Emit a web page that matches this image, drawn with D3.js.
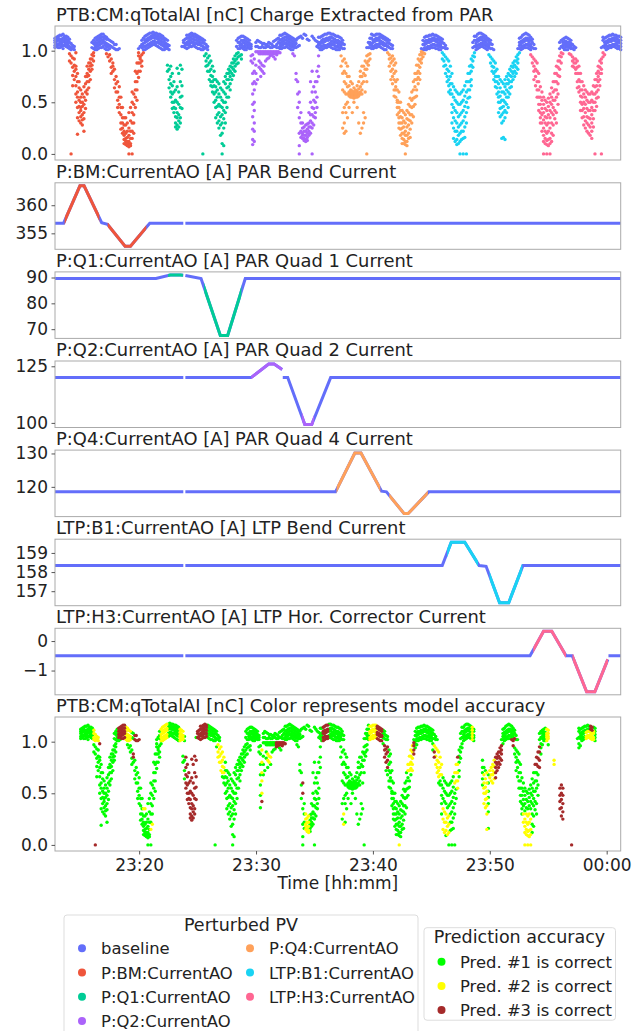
<!DOCTYPE html>
<html>
<head>
<meta charset="utf-8">
<script src="https://cdn.jsdelivr.net/npm/d3@7"></script>
<style>
  body { margin: 0; background: #fff; }
  svg { font-family: "DejaVu Sans", sans-serif; }
</style>
</head>
<body>
<svg id="chart"></svg>
<script>
// perturbed PVs and their colours
const pvNames = ["baseline", "P:BM:CurrentAO", "P:Q1:CurrentAO", "P:Q2:CurrentAO", "P:Q4:CurrentAO", "LTP:B1:CurrentAO", "LTP:H3:CurrentAO"];
const pvColors = ["#636EFA", "#EF553B", "#00CC96", "#AB63FA", "#FFA15A", "#19D3F3", "#FF6692"];
const accNames = ["Pred. #1 is correct", "Pred. #2 is correct", "Pred. #3 is correct"];
const accColors = ["#00FF00", "#FFFF00", "#A52A2A"];

// time axis (minutes after 23:00)
const xTickTimes = [20, 30, 40, 50, 60];
const xTickLabels = ["23:20", "23:30", "23:40", "23:50", "00:00"];

// charge readings: "time|values x100"
const qColumns = [
  "15.00|108 112 105 110 103", "15.25|110 114 106 112 103", "15.50|111 115 107 104 109", "15.75|112 108 114 105 110",
  "16.00|110 106 113 103 108", "16.25|107 103 101 95 88 0", "16.50|104 101 92 80 72 86", "16.75|70 60 55 45 35 78 19",
  "17.00|62 50 42 36 30 55 45", "17.25|55 48 40 34 22 65", "17.50|78 70 62 58 75 85", "17.75|92 85 80 72 88",
  "18.00|98 95 90 102 107 110", "18.25|104 110 113 107 101", "18.50|106 112 115 109 103", "18.75|108 113 116 110 104",
  "19.00|107 113 111 104 101 97", "19.25|105 110 102 96 90", "19.50|103 108 88 80 85", "19.75|106 101 75 68 60",
  "20.00|102 65 55 48 40", "20.25|45 35 30 25 20", "20.50|28 20 15 12 9 35", "20.75|18 12 9 7 25 40 0",
  "21.00|50 40 30 22 15 60 0", "21.25|70 62 55 45 80", "21.50|88 80 74 95 98 102", "21.75|96 90 85 103 110 106",
  "22.00|104 110 114 108 101", "22.25|106 112 116 110 103", "22.50|108 114 117 112 105", "22.75|109 115 117 112 106",
  "23.00|108 114 116 111 104", "23.25|106 112 115 109 102", "23.50|104 109 112 106 101", "23.75|102 106 110 104 86 80",
  "24.00|85 75 68 60 55", "24.25|70 60 50 45 40", "24.50|50 40 35 28 24 65 83", "24.75|55 45 35 30 70 86",
  "25.00|104 108 110", "25.25|106 112 115 108 102", "25.50|107 113 116 110 104", "25.75|108 114 116 111 105",
  "26.00|107 113 115 110 103", "26.25|106 111 113 108 102", "26.50|104 108 111 101 0", "26.75|103 106 97 90 85",
  "27.00|95 88 80 72", "27.25|85 75 70 65 60", "27.50|72 65 60 52 45 35", "27.75|68 58 48 40 32 25",
  "28.00|62 52 45 38 30 20 10 0", "28.25|75 68 58 50 40 30", "28.50|82 78 72 65 55", "28.75|88 84 78 72",
  "29.00|95 90 85 80", "29.25|98 94 88 102 108 112", "29.50|103 110 114 106 96 92", "29.75|104 110 113 107 101",
  "30.00|103 108 111 105", "30.25|102 106 104 95 90", "30.50|92 80 70 62 50 42 30 22 12", "30.75|99 72 104 110",
  "31.00|99 98 97 88 82 75 103 108", "31.25|99 98 97 85 78 103 107", "31.50|99 98 97 92 104 106", "31.75|99 98 97 95 103 107",
  "32.00|99 98 97 94 104 109", "32.25|99 98 96 103 106 111", "32.50|104 110 115 107 102 98", "32.75|106 112 116 109 103",
  "33.00|107 113 116 110 104", "33.25|105 111 114 108 102", "33.50|104 109 112 106 101 97", "33.75|78 72 103 107 110",
  "34.00|60 50 35 20 8 0 113 105", "34.25|30 25 20 18 15 112", "34.50|28 22 18 14 12 115", "34.75|30 26 22 18 40 110",
  "35.00|45 38 30 25 60 80 0 114", "35.25|60 50 40 35 70 110", "35.50|95 85 75 103 108 113 106", "35.75|104 110 114 108 101",
  "36.00|105 111 116 109 103", "36.25|106 112 117 110 104", "36.50|106 113 116 109 103", "36.75|105 111 115 108 102",
  "37.00|104 110 114 107 101", "37.25|103 108 112 105 95 85", "37.50|102 106 92 80 70 60 45 30 20", "37.75|85 75 65 58 50 35",
  "38.00|62 60 58 57 55 70", "38.25|60 58 57 56 54 64 50", "38.50|61 59 57 55 66 45", "38.75|65 60 58 75 80 20",
  "39.00|85 78 70 40 30", "39.25|95 88 82 70 0 103", "39.50|97 92 103 108 112 106", "39.75|104 110 115 108 102",
  "40.00|106 112 116 110 103", "40.25|107 113 116 110 104", "40.50|106 112 114 108 102", "40.75|105 110 112 106 101",
  "41.00|103 107 110 96 92 85", "41.25|102 105 95 90 82 75 68", "41.50|88 80 70 65 55 62", "41.75|60 50 40 35 30 25 45",
  "42.00|42 35 30 25 20 15 10", "42.25|38 30 22 18 12 9 0", "42.50|48 40 33 28 20 15", "42.75|60 52 45 38 30",
  "43.00|78 72 65 55 48", "43.25|92 86 80 74 68", "43.50|99 96 92 88 102", "43.75|103 109 113 106 101 97",
  "44.00|104 110 114 108 102", "44.25|105 111 115 109 103", "44.50|106 112 115 110 103", "44.75|105 111 114 108 102",
  "45.00|104 109 112 106 101", "45.25|103 107 96 90 85", "45.50|102 92 82 75 70", "45.75|85 75 68 62 58",
  "46.00|65 55 45 35 25 15", "46.25|60 50 40 30 22 14 9", "46.50|58 48 38 28 20 12 0", "46.75|62 52 42 32 22 15 0",
  "47.00|70 60 50 40 30 0", "47.25|85 78 70 62 55", "47.50|95 90 84 103 108", "47.75|104 110 114 107 101",
  "48.00|106 112 117 110 103", "48.25|107 113 116 110 104", "48.50|105 111 114 108 102", "48.75|103 108 111 105 96",
  "49.00|102 106 92 85 80", "49.25|88 80 75 70 65", "49.50|75 68 60 55 50 40", "49.75|70 60 52 45 38 30 15",
  "50.00|72 65 58 50 42 35 14", "50.25|78 72 68 60 55 45", "50.50|85 80 75 70 65", "50.75|90 86 80 75",
  "51.00|96 92 88 82 102", "51.25|103 109 113 106 101", "51.50|105 111 116 109 103", "51.75|106 112 116 110 103",
  "52.00|104 110 113 106 101 96", "52.25|102 106 92 85 80 72", "52.50|88 80 70 62 55", "52.75|65 55 48 40 35 30",
  "53.00|55 48 40 33 25 18 12 0", "53.25|50 42 35 28 20 13 9 0", "53.50|58 50 42 35 25 15 10 0", "53.75|70 60 52 45 38 28 18",
  "54.00|85 78 70 62 55 40 30", "54.25|95 90 82 75 102 108", "54.50|103 108 111 105 97", "54.75|104 109 113 107 101",
  "55.00|103 108 111 105 97", "55.25|102 106 94 90 85", "55.50|103 92 88 82 78", "55.75|85 78 72 65 60",
  "56.00|70 62 55 48 42 35", "56.25|62 55 48 40 32 25", "56.50|58 50 42 35 28 20", "56.75|60 52 45 38 30 22 15",
  "57.00|72 65 58 50 42 0", "57.25|85 80 75 70 62 55", "57.50|92 88 82 78 0 103", "57.75|103 108 112 105 96",
  "58.00|104 110 114 108 102", "58.25|105 111 115 109 103", "58.50|106 112 115 110 104", "58.75|105 111 114 108 102",
  "59.00|104 110 113 107 101"
];
// readings between the columns above
const qColumnsMid = [
  "15.125|109 113 106 104 111", "15.375|111 115 108 103 106", "15.625|112 116 109 105 102", "15.875|111 107 114 104 109",
  "16.125|108 104 111 102 97 90", "16.375|105 102 93 84 76 66", "16.625|98 85 75 66 58 50 82", "16.875|64 52 46 40 32 70",
  "17.125|58 46 38 33 28 50", "17.375|68 60 52 44 75", "17.625|88 82 76 70 64", "17.875|96 92 86 82 103 108",
  "18.125|103 108 112 105 101", "18.375|105 111 114 108 102", "18.625|107 113 116 110 103", "18.875|108 114 112 106 102",
  "19.125|106 111 104 101 94", "19.375|104 109 92 84 78", "19.625|102 106 82 72 64", "19.875|101 70 60 52 45",
  "20.125|55 45 38 30 24", "20.375|35 28 22 18 14 10", "20.625|22 16 12 10 8 30", "20.875|32 22 15 10 8 45",
  "21.125|58 48 38 30 20", "21.375|78 70 62 52 88", "21.625|94 88 80 92 104", "21.875|101 107 112 104 98",
  "22.125|105 111 115 109 102", "22.375|107 113 117 111 104", "22.625|109 115 118 113 106", "22.875|108 114 117 112 105",
  "23.125|107 113 116 110 103", "23.375|105 111 114 108 101", "23.625|103 107 111 105 102", "23.875|101 105 82 72 64",
  "24.125|78 66 58 50 44", "24.375|62 52 44 36 30 26", "24.625|48 38 32 26 60 78", "24.875|66 56 44 82 104",
  "25.125|103 107 111 105", "25.375|106 112 115 109 103", "25.625|108 114 117 111 104", "25.875|107 113 116 110 104",
  "26.125|106 112 114 109 102", "26.375|105 110 112 107 101", "26.625|103 107 110 102 95", "26.875|101 104 93 86 80",
  "27.125|90 82 76 70 66", "27.375|80 72 66 58 50", "27.625|70 62 55 46 38 30", "27.875|64 55 46 36 28 18",
  "28.125|70 60 50 42 34 25 8", "28.375|78 72 64 55 45", "28.625|85 80 75 68 62", "28.875|92 88 82 76",
  "29.125|97 92 87 104 110", "29.375|102 108 113 105 95", "29.625|104 110 114 108 102", "29.875|103 109 112 106 101",
  "30.125|102 107 110 104", "30.375|96 88 78 68 58 48 36 24 14 9", "30.625|99 86 78 68 104 108", "30.875|99 98 97 90 84 103 109",
  "31.125|99 98 97 86 80 104 107", "31.375|99 98 97 90 103 106", "31.625|99 98 97 93 104 108", "31.875|99 98 97 96 103 106",
  "32.125|99 98 97 92 104 110", "32.375|99 98 103 108 112", "32.625|105 111 115 108 102", "32.875|107 113 117 110 103",
  "33.125|106 112 115 109 103", "33.375|104 110 113 107 101", "33.625|103 108 111 105 95", "33.875|70 58 45 104 112",
  "34.125|40 30 22 16 114", "34.375|26 22 18 15 13 116", "34.625|29 24 20 16 13 111", "34.875|38 32 26 20 50 70",
  "35.125|52 44 36 28 65 112", "35.375|80 70 55 45 104 109", "35.625|103 108 113 106 101", "35.875|105 111 115 108 102",
  "36.125|105 112 116 110 103", "36.375|107 113 117 111 104", "36.625|106 112 116 109 102", "36.875|104 110 114 108 101",
  "37.125|103 109 113 106 101", "37.375|102 107 110 90 78 62 40 25", "37.625|88 78 68 58 48 40 22", "37.875|75 66 60 58 56 45",
  "38.125|61 59 57 56 55 68 40", "38.375|60 58 57 56 55 62", "38.625|63 59 57 56 70 30", "38.875|75 68 62 58 85 25",
  "39.125|90 82 76 60 35", "39.375|96 90 86 103 108", "39.625|102 107 112 116 105", "39.875|105 111 115 109 103",
  "40.125|106 112 116 110 104", "40.375|107 113 115 109 103", "40.625|105 111 113 107 101", "40.875|104 108 111 104 98",
  "41.125|102 106 93 88 80 72", "41.375|92 86 78 72 62 56", "41.625|72 62 52 45 38 50", "41.875|50 42 36 30 24 18",
  "42.125|40 32 26 20 14 10", "42.375|42 34 26 18 12 8", "42.625|54 46 38 32 24 16", "42.875|70 62 54 46 36",
  "43.125|86 78 72 62 56", "43.375|96 90 84 78 72", "43.625|101 106 110 98 94", "43.875|103 110 114 107 101",
  "44.125|104 111 115 108 102", "44.375|106 112 116 110 103", "44.625|105 111 115 109 102", "44.875|104 110 113 107 101",
  "45.125|103 108 111 98 92", "45.375|102 105 94 86 78", "45.625|90 80 72 66 60", "45.875|78 68 58 48 40 30",
  "46.125|62 52 42 32 22 12", "46.375|58 48 36 26 18 10", "46.625|60 50 40 30 22 14", "46.875|66 56 46 36 26 16",
  "47.125|78 70 62 54 45", "47.375|92 86 80 72 66", "47.625|98 94 104 110 114", "47.875|105 111 116 109 102",
  "48.125|107 113 117 111 104", "48.375|106 112 115 109 103", "48.625|104 110 112 106 101", "48.875|102 107 110 94 88",
  "49.125|101 90 84 78 72", "49.375|82 75 70 64 58", "49.625|72 64 56 50 44 36", "49.875|68 60 52 46 40 32 16",
  "50.125|75 68 62 55 48 40", "50.375|82 76 70 64 58", "50.625|88 84 78 72", "50.875|94 90 84 78",
  "51.125|102 108 112 105 98", "51.375|104 110 115 108 102", "51.625|106 112 117 110 103", "51.875|105 111 115 108 102",
  "52.125|103 108 111 94 88", "52.375|102 90 82 75 66", "52.625|78 70 62 55 48 42", "52.875|60 52 44 38 30 22",
  "53.125|52 44 36 30 22 15 10", "53.375|54 46 38 30 22 14 8", "53.625|64 55 48 40 30 20 12", "53.875|78 70 62 52 42 34",
  "54.125|90 84 76 68 58 48", "54.375|98 94 88 104 110", "54.625|103 109 112 106 101", "54.875|104 108 112 106 101",
  "55.125|102 107 110 104 96", "55.375|101 104 92 88 84", "55.625|90 84 78 70 64", "55.875|78 70 62 56 50 42",
  "56.125|66 58 50 44 36 28", "56.375|60 52 44 36 30 22", "56.625|58 50 42 34 26 18", "56.875|66 58 50 42 34 26",
  "57.125|78 72 66 60 54 46", "57.375|90 84 78 72 66", "57.625|98 94 104 110 113", "57.875|104 109 113 107 101",
  "58.125|105 111 115 109 103", "58.375|106 112 116 110 104", "58.625|106 112 115 109 103", "58.875|104 110 114 108 102"
];

// time windows where charge drops belong to a perturbed PV
const dipSpans = [
  ["P:BM:CurrentAO", 16.1, 18.1], ["P:BM:CurrentAO", 19.0, 21.9],
  ["P:Q1:CurrentAO", 23.7, 24.9], ["P:Q1:CurrentAO", 26.4, 29.6],
  ["P:Q2:CurrentAO", 30.2, 32.6], ["P:Q2:CurrentAO", 33.4, 35.6],
  ["P:Q4:CurrentAO", 37.1, 39.6], ["P:Q4:CurrentAO", 40.8, 43.9],
  ["LTP:B1:CurrentAO", 45.1, 47.7], ["LTP:B1:CurrentAO", 48.7, 51.2],
  ["LTP:H3:CurrentAO", 51.9, 54.6], ["LTP:H3:CurrentAO", 54.9, 57.8]
];

// prediction accuracy regions [t0, t1, v0, v1, code]; 0 = no prediction, default 1
const accRegions = [
  [16.1, 16.6, 1.0, 1.2, 2], [16.6, 17.1, 0.9, 1.2, 3], [16.2, 16.3, -0.1, 0.05, 3],
  [18.2, 18.8, 1.03, 1.2, 3], [18.8, 19.3, 1.0, 1.2, 2], [19.6, 20.0, 1.0, 1.2, 3], [19.4, 19.6, 0.84, 0.9, 3],
  [20.3, 20.6, 0.3, 0.5, 2], [20.9, 21.2, 0.05, 0.2, 2], [21.8, 22.4, 1.0, 1.2, 2], [23.4, 23.8, 1.0, 1.2, 2],
  [23.9, 24.9, 0.2, 0.95, 3], [25.0, 25.8, 1.0, 1.2, 3], [26.7, 27.3, 0.7, 1.0, 2],
  [30.4, 30.6, 0.45, 0.95, 2], [30.4, 30.6, 0.3, 0.45, 3], [30.3, 30.6, 0.0, 0.3, 0],
  [31.0, 31.3, 0.8, 0.9, 2], [31.7, 32.6, 0.95, 0.995, 3], [33.9, 34.1, 0.45, 0.65, 3], [34.2, 34.6, 0.1, 0.3, 2],
  [35.7, 36.2, 1.0, 1.2, 3], [37.4, 37.6, 0.2, 0.4, 2], [39.75, 40.3, 1.0, 1.2, 2], [40.3, 40.8, 1.0, 1.2, 3],
  [40.9, 41.3, 0.75, 1.0, 3], [42.1, 42.4, -0.1, 0.05, 2], [42.9, 43.6, 0.7, 1.0, 2], [43.4, 43.6, 0.85, 1.0, 3],
  [45.2, 45.9, 0.65, 1.0, 2], [45.2, 45.3, 0.8, 0.9, 3], [46.0, 46.5, 0.1, 0.35, 2], [46.9, 47.3, 0.55, 0.95, 2],
  [47.2, 47.3, 0.8, 0.9, 3], [48.5, 48.6, 1.0, 1.2, 2], [48.7, 49.3, -0.1, 1.3, 0], [49.4, 49.8, 0.1, 0.7, 2],
  [49.9, 50.4, -0.1, 0.6, 0], [50.0, 50.5, 0.6, 1.0, 2], [50.5, 51.0, 0.6, 1.0, 3], [51.8, 52.2, 0.95, 1.03, 3],
  [52.8, 53.6, 0.0, 0.3, 2], [53.75, 54.3, 0.75, 1.0, 3], [54.8, 55.1, 1.0, 1.2, 2],
  [55.1, 57.4, -0.1, 1.3, 0], [57.4, 57.6, -0.1, 0.95, 0], [55.5, 55.6, 0.6, 0.85, 2], [56.0, 56.3, 0.15, 0.6, 3],
  [56.9, 57.1, -0.1, 0.05, 3], [58.2, 58.9, 1.0, 1.1, 2], [58.6, 58.8, 1.1, 1.2, 3]
];

// magnet set points [time, value]; null marks a gap
const bmKnots = [[15.0, 356.8], [15.67, 356.8], [16.94, 363.45], [17.26, 363.45], [18.63, 356.9], [19.08, 356.6], [20.45, 352.7], [20.87, 352.7], [22.37, 356.8], [24.98, 356.8], [25.06, null], [25.14, 356.8], [59.0, 356.8]];
const q1Knots = [[15.0, 89.6], [22.85, 89.6], [23.96, 91.0], [24.76, 91.0], [24.98, 90.9], [25.06, null], [25.14, 90.8], [26.36, 89.6], [27.86, 67.6], [28.43, 67.6], [29.8, 89.6], [59.0, 89.6]];
const q2Knots = [[15.0, 120.0], [24.98, 120.0], [25.06, null], [25.14, 120.0], [30.25, 120.0], [31.62, 126.0], [32.04, 126.0], [32.67, 123.6], [32.69, null], [32.72, 120.0], [33.1, 120.0], [34.43, 99.3], [34.97, 99.3], [36.44, 120.0], [59.0, 120.0]];
const q4Knots = [[15.0, 118.5], [24.98, 118.5], [25.06, null], [25.14, 118.5], [36.82, 118.5], [38.32, 130.1], [38.8, 130.1], [40.4, 118.7], [40.78, 118.5], [42.15, 112.0], [42.47, 112.0], [44.07, 118.5], [59.0, 118.5]];
const b1Knots = [[15.0, 158.34], [24.98, 158.34], [25.06, null], [25.14, 158.34], [45.12, 158.34], [45.82, 159.56], [46.87, 159.56], [47.99, 158.34], [48.53, 158.3], [49.58, 156.4], [50.29, 156.4], [51.4, 158.34], [59.0, 158.34]];
const h3Knots = [[15.0, -0.5], [24.98, -0.5], [25.06, null], [25.14, -0.5], [51.95, -0.5], [53.0, 0.33], [53.64, 0.33], [54.75, -0.5], [55.23, -0.5], [56.35, -1.72], [56.99, -1.72], [58.0, -0.62], [58.02, null], [58.05, -0.5], [59.0, -0.5]];

// where each set-point trace is drawn in its PV colour
const lineSpans = [
  ["P:BM:CurrentAO", 15.75, 18.45], ["P:BM:CurrentAO", 19.1, 22.1],
  ["P:Q1:CurrentAO", 23.8, 24.95], ["P:Q1:CurrentAO", 26.6, 29.5],
  ["P:Q2:CurrentAO", 30.25, 32.7], ["P:Q2:CurrentAO", 34.2, 35.15],
  ["P:Q4:CurrentAO", 36.9, 40.3], ["P:Q4:CurrentAO", 41.0, 44.0],
  ["LTP:B1:CurrentAO", 45.5, 47.9], ["LTP:B1:CurrentAO", 48.8, 51.35],
  ["LTP:H3:CurrentAO", 52.2, 54.75], ["LTP:H3:CurrentAO", 55.25, 58.02]
];

const chargeTicks = [0, 0.5, 1.0];
const linePanels = [
  { title: "P:BM:CurrentAO [A] PAR Bend Current", pv: "P:BM:CurrentAO", knots: bmKnots, ticks: [355, 360] },
  { title: "P:Q1:CurrentAO [A] PAR Quad 1 Current", pv: "P:Q1:CurrentAO", knots: q1Knots, ticks: [70, 80, 90] },
  { title: "P:Q2:CurrentAO [A] PAR Quad 2 Current", pv: "P:Q2:CurrentAO", knots: q2Knots, ticks: [100, 125] },
  { title: "P:Q4:CurrentAO [A] PAR Quad 4 Current", pv: "P:Q4:CurrentAO", knots: q4Knots, ticks: [120, 130] },
  { title: "LTP:B1:CurrentAO [A] LTP Bend Current", pv: "LTP:B1:CurrentAO", knots: b1Knots, ticks: [157, 158, 159] },
  { title: "LTP:H3:CurrentAO [A] LTP Hor. Corrector Current", pv: "LTP:H3:CurrentAO", knots: h3Knots, ticks: [-1, 0] }
];

const width = 640, height = 1031;
const left = 55, right = 620.7;
const frames = [[26, 160], [182.8, 249.3], [271.9, 338.4], [361, 427.5], [450.1, 516.6], [539.2, 605.7], [628.3, 694.8], [717, 851]];
const svg = d3.select("#chart").attr("width", width).attr("height", height);

const pad5 = ext => { let s = ext[1] - ext[0]; return [ext[0] - 0.05 * s, ext[1] + 0.05 * s]; };

// parse charge data
let charge = qColumns.concat(qColumnsMid).flatMap(s => {
  let [t, vals] = s.split("|");
  return vals.split(" ").map(v => ({ t: +t, v: +v / 100 }));
});
charge.forEach(d => {
  d.pv = 0;
  if (d.v < 1) {
    let span = dipSpans.find(s => d.t >= s[1] && d.t <= s[2]);
    if (span) d.pv = pvNames.indexOf(span[0]);
  }
  d.acc = 1;
  accRegions.forEach(r => {
    if (d.t >= r[0] && d.t <= r[1] && d.v >= r[2] && d.v <= r[3]) d.acc = r[4];
  });
});

const tExt = d3.extent(charge, d => d.t);
const xTop = d3.scaleLinear().domain(tExt).range([left, right]);
const xBottom = d3.scaleLinear().domain(pad5(tExt)).range([left, right]);
const qDomain = pad5(d3.extent(charge, d => d.v));

function panelFrame(i, title) {
  let [top, bottom] = frames[i];
  svg.append("text").attr("x", left + 1).attr("y", top - 5)
    .attr("font-size", 17.9).attr("fill", "#222").text(title);
  return [top, bottom];
}

function yAxis(y, ticks, fmt) {
  let g = svg.append("g").attr("transform", `translate(${left},0)`)
    .call(d3.axisLeft(y).tickValues(ticks).tickSize(3.5).tickPadding(3.5).tickFormat(fmt));
  g.select(".domain").remove();
  g.selectAll("line").attr("stroke", "#555");
  g.selectAll("text").attr("font-size", 17).attr("fill", "#222").attr("font-family", "DejaVu Sans");
}

function frameRect(top, bottom) {
  svg.append("rect").attr("x", left).attr("y", top).attr("width", right - left).attr("height", bottom - top)
    .attr("fill", "none").attr("stroke", "#aaa").attr("stroke-width", 1);
}

// panel 1: charge coloured by perturbed PV
{
  let [top, bottom] = panelFrame(0, "PTB:CM:qTotalAI [nC] Charge Extracted from PAR");
  let y = d3.scaleLinear().domain(qDomain).range([bottom, top]);
  svg.append("g").selectAll("circle")
    .data(charge.slice().sort((a, b) => (a.pv > 0) - (b.pv > 0)))
    .enter().append("circle")
    .attr("cx", d => xTop(d.t)).attr("cy", d => y(d.v)).attr("r", 1.7)
    .attr("fill", d => pvColors[d.pv]);
  frameRect(top, bottom);
  yAxis(y, chargeTicks, d3.format(".1f"));
}

// panels 2-7: set points
linePanels.forEach((p, k) => {
  let [top, bottom] = panelFrame(k + 1, p.title);
  let vals = p.knots.filter(d => d[1] != null).map(d => d[1]);
  let y = d3.scaleLinear().domain(pad5(d3.extent(vals))).range([bottom, top]);
  let line = d3.line().defined(d => d[1] != null).x(d => xTop(d[0])).y(d => y(d[1]));
  svg.append("path").datum(p.knots).attr("d", line)
    .attr("fill", "none").attr("stroke", pvColors[0]).attr("stroke-width", 3);
  lineSpans.filter(s => s[0] === p.pv).forEach((s, j) => {
    let id = `clip${k}_${j}`;
    svg.append("clipPath").attr("id", id).append("rect")
      .attr("x", xTop(s[1])).attr("y", top - 5).attr("width", xTop(s[2]) - xTop(s[1])).attr("height", bottom - top + 10);
    svg.append("path").datum(p.knots).attr("d", line).attr("clip-path", `url(#${id})`)
      .attr("fill", "none").attr("stroke", pvColors[pvNames.indexOf(s[0])]).attr("stroke-width", 3);
  });
  frameRect(top, bottom);
  yAxis(y, p.ticks, d3.format("d"));
});

// panel 8: charge coloured by prediction accuracy
{
  let [top, bottom] = panelFrame(7, "PTB:CM:qTotalAI [nC] Color represents model accuracy");
  let y = d3.scaleLinear().domain(qDomain).range([bottom, top]);
  svg.append("g").selectAll("circle")
    .data(charge.filter(d => d.acc > 0).sort((a, b) => a.acc - b.acc))
    .enter().append("circle")
    .attr("cx", d => xBottom(d.t)).attr("cy", d => y(d.v)).attr("r", 1.7)
    .attr("fill", d => accColors[d.acc - 1]);
  frameRect(top, bottom);
  yAxis(y, chargeTicks, d3.format(".1f"));
  let gx = svg.append("g").attr("transform", `translate(0,${bottom})`)
    .call(d3.axisBottom(xBottom).tickValues(xTickTimes).tickSize(3.5).tickPadding(4)
      .tickFormat((d, i) => xTickLabels[i]));
  gx.select(".domain").remove();
  gx.selectAll("line").attr("stroke", "#555");
  gx.selectAll("text").attr("font-size", 17).attr("fill", "#222").attr("font-family", "DejaVu Sans");
  svg.append("text").attr("x", (left + right) / 2).attr("y", 889).attr("text-anchor", "middle")
    .attr("font-size", 17).attr("fill", "#222").text("Time [hh:mm]");
}

// legends
{
  let g = svg.append("g");
  g.append("rect").attr("x", 64).attr("y", 915).attr("width", 354).attr("height", 130).attr("rx", 3)
    .attr("fill", "#fff").attr("stroke", "#ddd");
  g.append("text").attr("x", 241).attr("y", 931).attr("text-anchor", "middle")
    .attr("font-size", 17.5).attr("fill", "#222").text("Perturbed PV");
  pvNames.forEach((name, i) => {
    let col = i < 4 ? 0 : 1, row = i < 4 ? i : i - 4;
    let cx = col === 0 ? 82 : 250, cy = 948.3 + row * 24.2;
    g.append("circle").attr("cx", cx).attr("cy", cy).attr("r", 4).attr("fill", pvColors[i]);
    g.append("text").attr("x", cx + 19).attr("y", cy + 6).attr("font-size", 16.4).attr("fill", "#222").text(name);
  });
  let g2 = svg.append("g");
  g2.append("rect").attr("x", 424).attr("y", 927.7).attr("width", 191.5).attr("height", 92.5).attr("rx", 3)
    .attr("fill", "#fff").attr("stroke", "#ddd");
  g2.append("text").attr("x", 519.5).attr("y", 943).attr("text-anchor", "middle")
    .attr("font-size", 17.5).attr("fill", "#222").text("Prediction accuracy");
  accNames.forEach((name, i) => {
    let cy = 961.7 + i * 24.2;
    g2.append("circle").attr("cx", 441.5).attr("cy", cy).attr("r", 4).attr("fill", accColors[i]);
    g2.append("text").attr("x", 460).attr("y", cy + 6).attr("font-size", 16.4).attr("fill", "#222").text(name);
  });
}
</script>
</body>
</html>
